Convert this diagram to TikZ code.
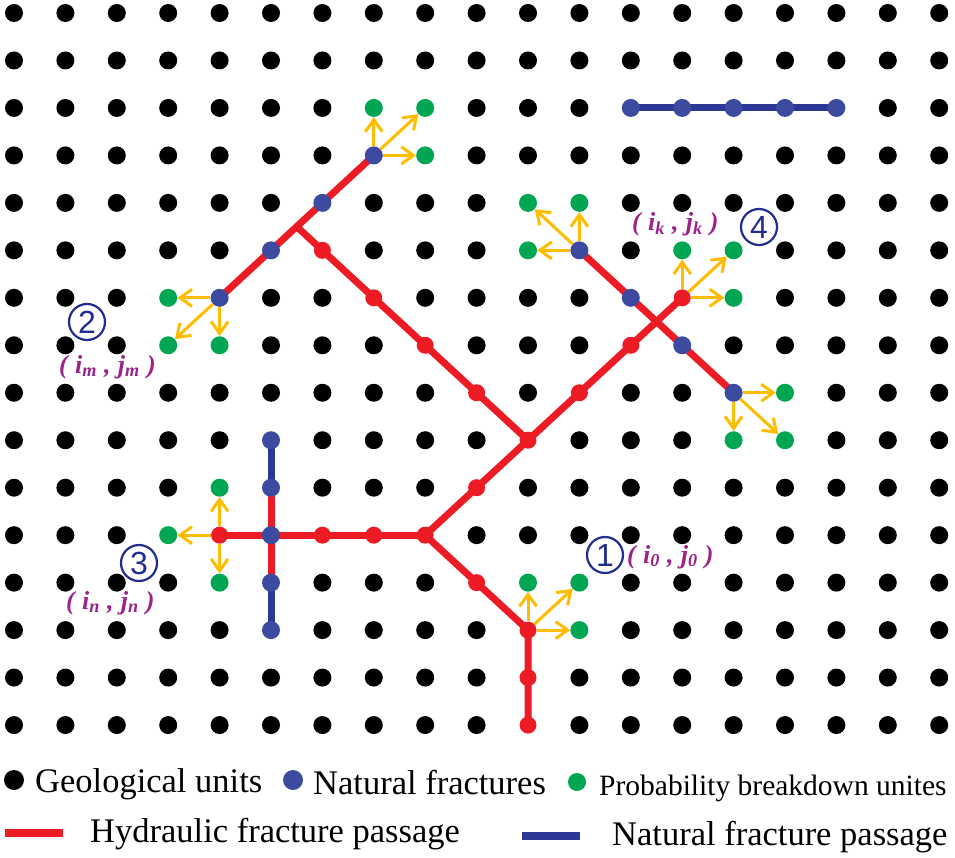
\documentclass[tikz,border=0pt]{standalone}
\usepackage{fontspec}
\setmainfont{Liberation Serif}
\setsansfont{Liberation Sans}
\usetikzlibrary{arrows.meta}
\definecolor{hred}{RGB}{237,28,36}
\definecolor{nblue}{RGB}{60,75,160}
\definecolor{lblue}{RGB}{45,55,150}
\definecolor{pgreen}{RGB}{0,166,81}
\definecolor{ayel}{RGB}{255,188,0}
\definecolor{lpurple}{RGB}{155,35,140}
\definecolor{cblue}{RGB}{35,45,145}
\pgfdeclarelayer{bg}
\pgfsetlayers{bg,main}
% cells occupied by coloured units (no black dot there)
\foreach \k in {12-2,13-2,14-2,15-2,16-2,
  7-3,7-2,8-2,8-3,6-4,5-5,4-6,3-6,3-7,4-7,
  6-5,7-6,8-7,9-8,10-9,11-8,12-7,13-6,13-5,14-5,14-6,
  9-10,8-11,7-11,6-11,5-11,4-11,3-11,4-10,4-12,
  5-9,5-10,5-12,5-13,9-12,10-13,10-14,10-15,10-12,11-12,11-13,
  11-5,10-4,11-4,10-5,12-6,13-7,14-8,15-8,14-9,15-9}
  {\expandafter\gdef\csname pgfk@/occ/\k\endcsname{1}}
\tikzset{
 dotbase/.style={circle, inner sep=0pt, minimum size=18pt, draw=none},
 geo/.style={dotbase, fill=black},
 nat/.style={dotbase, fill=nblue},
 brk/.style={dotbase, fill=pgreen},
 hyd/.style={dotbase, fill=hred, minimum size=17pt},
 hline/.style={draw=hred, line width=7pt, line join=round},
 nline/.style={draw=lblue, line width=7pt, line join=round},
 parr/.style={draw=ayel, line width=3pt, -{Straight Barb[length=12pt,width=17pt]}},
 cnum/.style={circle, draw=cblue, text=cblue, line width=2.2pt, minimum size=36pt, inner sep=0pt, font=\sffamily\fontsize{32}{32}\selectfont},
 coordlab/.style={text=lpurple, inner sep=0pt, anchor=west, font=\bfseries\itshape\fontsize{26}{28}\selectfont},
 legend/.style={anchor=base west, inner sep=0pt, font=\fontsize{34.5}{40}\selectfont},
}
\newcommand{\cpair}[2]{(\;i\textsubscript{#1}\;,\;j\textsubscript{#2}\;)}
\begin{document}
\begin{tikzpicture}[x=1pt, y=-1pt]
\useasboundingbox (0,0) rectangle (955,858);
\begin{scope}[shift={(14,13)}, x=51.4pt, y=-47.47pt]
% geological units
\foreach \c in {0,...,18}{\foreach \r in {0,...,15}{%
  \pgfkeysifdefined{/occ/\c-\r}{}{\node[geo] (g\c-\r) at (\c,\r) {};}}}
% natural fracture units
\foreach \c/\r in {12/2,13/2,14/2,15/2,16/2,7/3,6/4,5/5,4/6,5/9,5/10,5/11,5/12,5/13,11/5,12/6,13/7,14/8}
  {\node[nat] (n\c-\r) at (\c,\r) {};}
% hydraulic fracture units
\foreach \c/\r in {6/5,7/6,8/7,9/8,10/9,11/8,12/7,13/6,9/10,8/11,7/11,6/11,4/11,9/12,10/13,10/14,10/15}
  {\node[hyd] (h\c-\r) at (\c,\r) {};}
% probability breakdown units
\foreach \c/\r in {7/2,8/2,8/3,3/6,3/7,4/7,13/5,14/5,14/6,3/11,4/10,4/12,10/12,11/12,11/13,10/4,11/4,10/5,15/8,14/9,15/9}
  {\node[brk] (p\c-\r) at (\c,\r) {};}
\coordinate (jA) at (5.5,4.5);
\begin{pgfonlayer}{bg}
\draw[nline] (n12-2.center) -- (n13-2.center) -- (n14-2.center) -- (n15-2.center) -- (n16-2.center);
\draw[nline] (n5-9.center) -- (n5-10.center) -- (n5-11.center) -- (n5-12.center) -- (n5-13.center);
\draw[hline] (n5-10.center) -- (n5-11.center) -- (n5-12.center);
\draw[hline] (n7-3.center) -- (n6-4.center) -- (jA) -- (n5-5.center) -- (n4-6.center);
\draw[hline] (jA) -- (h6-5.center) -- (h7-6.center) -- (h8-7.center) -- (h9-8.center) -- (h10-9.center);
\draw[hline] (h10-9.center) -- (h11-8.center) -- (h12-7.center) -- (h13-6.center);
\draw[hline] (h10-9.center) -- (h9-10.center) -- (h8-11.center);
\draw[hline] (h8-11.center) -- (h7-11.center) -- (h6-11.center) -- (n5-11.center) -- (h4-11.center);
\draw[hline] (h8-11.center) -- (h9-12.center) -- (h10-13.center) -- (h10-14.center) -- (h10-15.center);
\draw[hline] (n11-5.center) -- (n12-6.center) -- (n13-7.center) -- (n14-8.center);
\end{pgfonlayer}
% breakdown probability arrows
\foreach \s/\t in {n7-3/p7-2, n7-3/p8-2, n7-3/p8-3,
  n4-6/p3-6, n4-6/p3-7, n4-6/p4-7,
  h4-11/p3-11, h4-11/p4-10, h4-11/p4-12,
  h10-13/p10-12, h10-13/p11-12, h10-13/p11-13,
  n11-5/p10-5, n11-5/p10-4, n11-5/p11-4,
  h13-6/p13-5, h13-6/p14-5, h13-6/p14-6,
  n14-8/p15-8, n14-8/p14-9, n14-8/p15-9}
  {\draw[parr] (\s) -- (\t);}
\end{scope}
% labels
\node[cnum] (c1) at (605,555) {1};
\node[coordlab] (k1) at (627,557) {\cpair{0}{0}};
\node[cnum] (c2) at (87,322) {2};
\node[coordlab] (k2) at (59,367) {\cpair{m}{m}};
\node[cnum] (c3) at (139,563) {3};
\node[coordlab] (k3) at (66,603) {\cpair{n}{n}};
\node[cnum] (c4) at (759,227) {4};
\node[coordlab] (k4) at (632,224) {\cpair{k}{k}};
% legend
\node[geo, minimum size=20pt] (lgeo) at (14,780) {};
\node[legend] (tgeo) at (35,792) {Geological units};
\node[nat, minimum size=20pt] (lnat) at (293,780) {};
\node[legend] (tnat) at (313,794) {Natural fractures};
\node[brk] (lbrk) at (577,782) {};
\node[legend, font=\fontsize{29.5}{34}\selectfont] (tbrk) at (599,795) {Probability breakdown unites};
\coordinate (lh1) at (5,833);
\coordinate (lh2) at (63,833);
\draw[hline, line width=8pt] (lh1) -- (lh2);
\node[legend] (thyd) at (90,842) {Hydraulic fracture passage};
\coordinate (ln1) at (522,836);
\coordinate (ln2) at (580,836);
\draw[nline, line width=8pt] (ln1) -- (ln2);
\node[legend] (tnfp) at (612,845) {Natural fracture passage};
\end{tikzpicture}
\end{document}
